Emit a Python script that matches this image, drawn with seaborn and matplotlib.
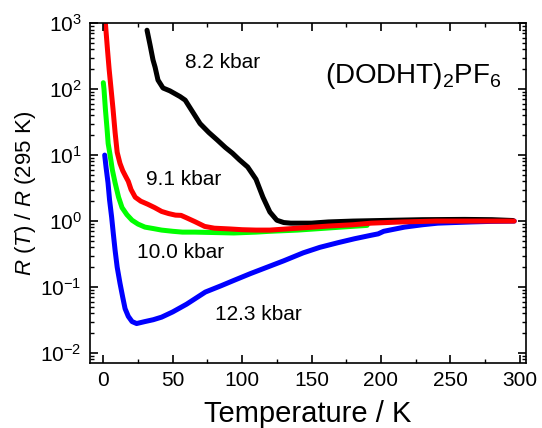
import numpy as np
import pandas as pd
import matplotlib
matplotlib.use("Agg")
import matplotlib.pyplot as plt
import matplotlib.ticker as mticker
import seaborn as sns

# ── DATA ─────────────────────────────────────────────────────────────────────
t_82 = [31.5, 33.7, 35.8, 37.3, 39.4, 43, 48, 55.3, 59, 62.5, 69.7, 76, 82, 88, 93,
        98, 104, 110, 115, 120, 125, 130, 135, 142, 150, 162, 180, 200, 230, 260,
        280, 295]
r_82 = [780, 465, 277, 215, 137, 104, 94, 77, 68, 52, 30, 22, 17, 13, 10.7, 8.5,
        6.6, 4.3, 2.3, 1.37, 1.03, 0.95, 0.93, 0.93, 0.93, 0.97, 1.0, 1.02, 1.05,
        1.06, 1.05, 1.02]

t_91 = [1.5, 3, 4.2, 5.6, 7, 8.5, 10, 12, 14, 16, 18, 20, 23, 27, 32, 37, 42, 47,
        52, 56, 60, 66, 73, 80, 91, 100, 110, 120, 140, 162, 180, 193, 215, 240,
        270, 296]
r_91 = [1000, 400, 200, 100, 50, 22, 11, 7.5, 5.8, 4.8, 4.0, 3.0, 2.3, 2.0, 1.8,
        1.6, 1.4, 1.3, 1.23, 1.22, 1.12, 0.98, 0.83, 0.78, 0.76, 0.74, 0.73, 0.73,
        0.78, 0.84, 0.88, 0.93, 0.97, 1.0, 1.0, 1.0]

t_100 = [0, 0.5, 1.5, 2.7, 3.5, 4.9, 6.5, 8.5, 11, 13.5, 17, 20.7, 25, 30, 36, 42,
         50, 57, 66, 80, 94, 110, 120, 140, 160, 175, 190]
r_100 = [125, 100, 50, 25, 15, 10, 6, 3.8, 2.3, 1.6, 1.25, 1.03, 0.9, 0.81, 0.77,
         0.73, 0.7, 0.68, 0.68, 0.67, 0.66, 0.68, 0.7, 0.73, 0.78, 0.82, 0.86]

t_123 = [1, 2, 3.4, 4.5, 6, 7.2, 8.5, 10, 12, 14, 15.7, 18, 20.7, 24, 30, 36, 42,
         50, 60, 73.5, 85, 94, 106, 118, 130, 144, 156, 169, 181, 193, 198, 202,
         217, 230, 241, 253, 265, 280, 296]
r_123 = [10, 6.5, 3.8, 2.1, 1.15, 0.65, 0.36, 0.2, 0.115, 0.07, 0.047, 0.036, 0.03,
         0.028, 0.03, 0.032, 0.035, 0.042, 0.055, 0.084, 0.105, 0.126, 0.16, 0.2,
         0.25, 0.33, 0.4, 0.47, 0.54, 0.61, 0.64, 0.7, 0.81, 0.88, 0.93, 0.95, 0.97,
         0.99, 1.0]

curves = [
    ("12.3 kbar", t_123, r_123, "#0000ff"),
    ("10.0 kbar", t_100, r_100, "#00ff00"),
    ("8.2 kbar", t_82, r_82, "#000000"),
    ("9.1 kbar", t_91, r_91, "#ff0000"),
]

# label positions (T, R) for the pressure annotations
label_pos = {
    "8.2 kbar": (86, 257),
    "9.1 kbar": (57.6, 4.2),
    "10.0 kbar": (56, 0.33),
    "12.3 kbar": (111.6, 0.038),
}

# ── STYLE ────────────────────────────────────────────────────────────────────
sns.set_theme(style="white")
plt.rcParams.update({
    "font.family": ["Liberation Sans", "DejaVu Sans"],
    "mathtext.fontset": "custom",
    "mathtext.rm": "Liberation Sans",
    "mathtext.it": "Liberation Sans:italic",
    "axes.linewidth": 1.2,
    "axes.edgecolor": "black",
    "axes.labelcolor": "black",
    "text.color": "black",
    "axes.axisbelow": False,
})

fig, ax = plt.subplots(figsize=(5.42, 4.28), dpi=100)
fig.subplots_adjust(left=0.166, right=0.9705, top=0.946, bottom=0.152)

for name, t, r, col in curves:
    df = pd.DataFrame({"T": t, "R": r})
    sns.lineplot(data=df, x="T", y="R", color=col, linewidth=3.6, sort=False,
                 estimator=None, ax=ax)

ax.set_yscale("log")
ax.set_xlim(-9.6, 304.5)
ax.set_ylim(10 ** -2.15, 1000)
ax.xaxis.set_major_locator(mticker.MultipleLocator(50))
ax.xaxis.set_minor_locator(mticker.MultipleLocator(25))
ax.yaxis.set_major_locator(mticker.LogLocator(base=10, numticks=10))
ax.yaxis.set_minor_locator(mticker.LogLocator(base=10, subs=np.arange(2, 10), numticks=10))
ax.yaxis.set_minor_formatter(mticker.NullFormatter())

ax.tick_params(which="both", direction="in", top=True, right=True,
               bottom=True, left=True, color="black", labelcolor="black")
ax.tick_params(which="major", length=5.5, width=1.2, labelsize=15, pad=6)
ax.tick_params(which="minor", length=3, width=1.0)

ax.set_xlabel("Temperature / K", fontsize=21, labelpad=7)
ax.set_ylabel(r"$R$ ($T$) / $R$ (295 K)", fontsize=16, labelpad=2)

for name, (x, y) in label_pos.items():
    ax.text(x, y, name, fontsize=15, ha="center", va="center")

ax.text(160, 123, r"(DODHT)$_2$PF$_6$", fontsize=20, ha="left", va="baseline")

plt.savefig("out.png", dpi=100)
plt.close()
